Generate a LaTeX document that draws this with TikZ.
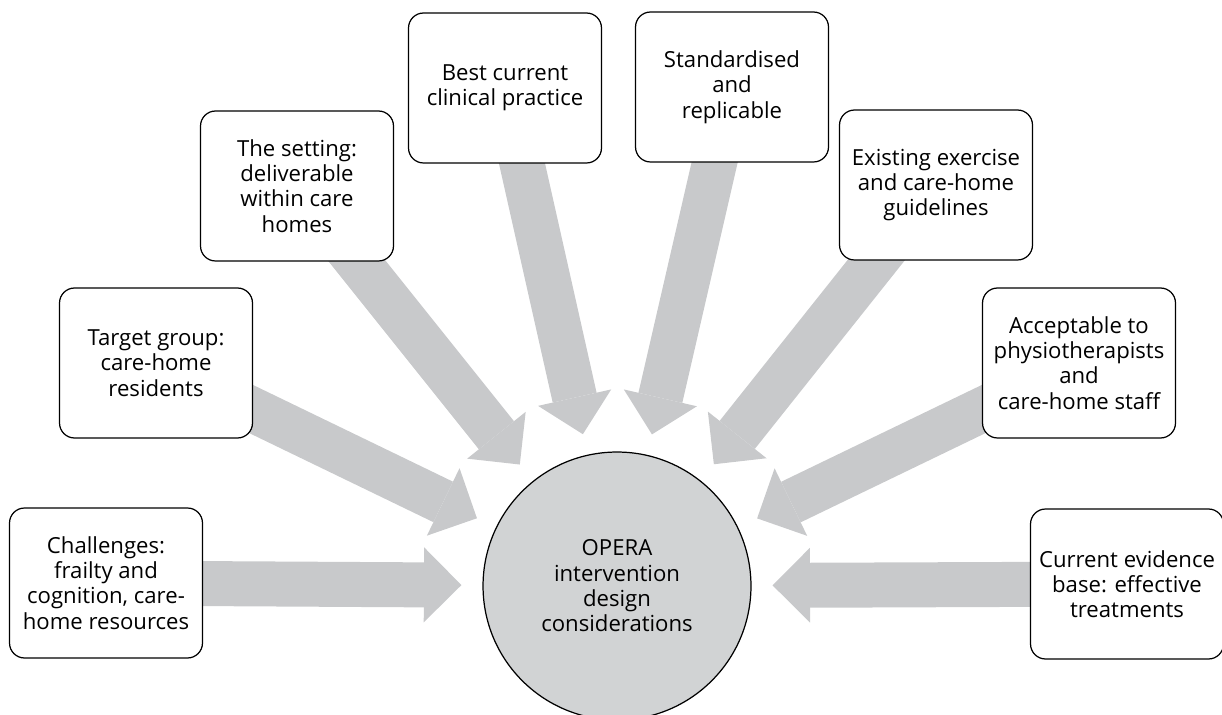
\documentclass[tikz,border=0pt]{standalone}
\usepackage{fontspec}
\setmainfont{Open Sans}
\usepackage[svgnames]{xcolor}
\usetikzlibrary{arrows.meta,backgrounds}
\definecolor{arrowgrey}{HTML}{C8C9CB}
\definecolor{coregrey}{HTML}{D1D3D4}
\tikzstyle{factor}=[draw,fill=white,rounded corners=0.3cm,line width=0.7pt,minimum width=3.86cm,minimum height=3cm,align=center,font=\fontsize{12.6}{14.4}\selectfont]
\tikzstyle{core}=[draw,circle,fill=coregrey,line width=0.7pt,minimum size=5.36cm,align=center,font=\fontsize{12.6}{14.4}\selectfont]
\tikzstyle{feed}=[arrowgrey,line width=0.9cm,-{Triangle[width=1.5cm,length=0.75cm,line width=0pt]},shorten >=0.42cm]

\begin{document}
\begin{tikzpicture}[x=0.02cm,y=-0.02cm]
\useasboundingbox (0,0) rectangle (1222,715);
\node[core] (opera) at (617,586) {OPERA\\intervention\\design\\considerations};
\foreach \place/\name/\txt in {
  {(106,583)/chal/{Challenges:\\frailty and\\cognition, care-\\home resources}},
  {(156,363)/target/{Target group:\\care-home\\residents}},
  {(297,186)/setting/{The setting:\\deliverable\\within care\\homes}},
  {(505,88)/best/{Best current\\clinical practice}},
  {(732,87)/stand/{Standardised\\and\\replicable}},
  {(936,185)/exist/{Existing exercise\\and care-home\\guidelines}},
  {(1079,363)/accept/{Acceptable to\\physiotherapists\\and\\care-home staff}},
  {(1127,584)/evid/{Current evidence\\base: effective\\treatments}}}
    \node[factor] (\name) at \place {\txt};
\begin{pgfonlayer}{background}
\foreach \source in {chal,target,setting,best,stand,exist,accept,evid}
    \draw[feed] (\source.center) -- (opera);
\end{pgfonlayer}
\end{tikzpicture}
\end{document}
